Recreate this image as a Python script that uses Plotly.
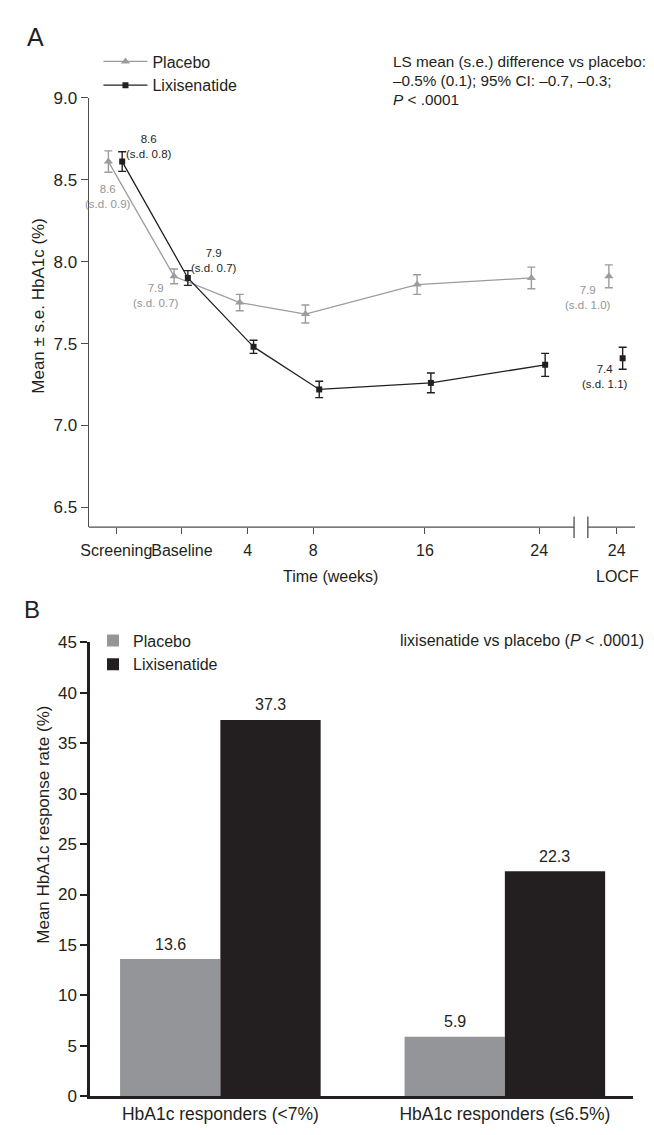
import plotly.graph_objects as go

# ---------------- Panel A data ----------------
timepoints = ["Screening", "Baseline", "4", "8", "16", "24", "24"]
x_positions = [0, 1, 2, 3, 4.7, 6.44, 7.62]          # axis positions of the time points
placebo_mean = [8.61, 7.91, 7.75, 7.68, 7.86, 7.90, 7.91]
placebo_se = [0.065, 0.045, 0.05, 0.055, 0.06, 0.066, 0.07]
lixi_mean = [8.61, 7.90, 7.48, 7.22, 7.26, 7.37, 7.41]
lixi_se = [0.06, 0.045, 0.04, 0.05, 0.06, 0.07, 0.067]
placebo_notes = {0: "8.6<br>(s.d. 0.9)", 1: "7.9<br>(s.d. 0.7)", 6: "7.9<br>(s.d. 1.0)"}
lixi_notes = {0: "8.6<br>(s.d. 0.8)", 1: "7.9<br>(s.d. 0.7)", 6: "7.4<br>(s.d. 1.1)"}

# ---------------- Panel B data ----------------
categories_b = ["HbA1c responders (<7%)", "HbA1c responders (≤6.5%)"]
placebo_rate = [13.6, 5.9]
lixi_rate = [37.3, 22.3]

# The page body keeps its default 8px margin, so the figure is sized to fill
# the 654x1135 window exactly together with that margin.
OFF = 8
W, H = 654 - 2 * OFF, 1135 - 2 * OFF
FONT = "Liberation Sans, Arial, Helvetica, sans-serif"
DARK = "#231f20"
GREY_LINE = "#9b9c9f"
GREY_BAR = "#939598"
BARGAP = 0.295

def px_x(v):
    return (v - OFF) / W

def px_y(v):
    return 1 - (v - OFF) / H

DODGE_P, DODGE_L = -0.12, 0.09
xp = [x + DODGE_P for x in x_positions]
xl = [x + DODGE_L for x in x_positions]

fig = go.Figure()

fig.add_trace(go.Scatter(
    x=xp[:6], y=placebo_mean[:6], mode="lines+markers", name="Placebo",
    line=dict(color=GREY_LINE, width=1.3),
    marker=dict(symbol="triangle-up", size=8, color=GREY_LINE),
    error_y=dict(type="data", array=placebo_se[:6], color=GREY_LINE, thickness=1.4, width=4),
    xaxis="x", yaxis="y", legend="legend"))
fig.add_trace(go.Scatter(
    x=xp[6:], y=placebo_mean[6:], mode="markers", showlegend=False,
    marker=dict(symbol="triangle-up", size=8, color=GREY_LINE),
    error_y=dict(type="data", array=placebo_se[6:], color=GREY_LINE, thickness=1.4, width=4),
    xaxis="x", yaxis="y"))
fig.add_trace(go.Scatter(
    x=xl[:6], y=lixi_mean[:6], mode="lines+markers", name="Lixisenatide",
    line=dict(color=DARK, width=1.3),
    marker=dict(symbol="square", size=6, color=DARK),
    error_y=dict(type="data", array=lixi_se[:6], color=DARK, thickness=1.4, width=4),
    xaxis="x", yaxis="y", legend="legend"))
fig.add_trace(go.Scatter(
    x=xl[6:], y=lixi_mean[6:], mode="markers", showlegend=False,
    marker=dict(symbol="square", size=6, color=DARK),
    error_y=dict(type="data", array=lixi_se[6:], color=DARK, thickness=1.4, width=4),
    xaxis="x", yaxis="y"))

fig.add_trace(go.Bar(
    x=categories_b, y=placebo_rate, name="Placebo", marker=dict(color=GREY_BAR, line=dict(width=0)),
    xaxis="x2", yaxis="y2", legend="legend2"))
fig.add_trace(go.Bar(
    x=categories_b, y=lixi_rate, name="Lixisenatide", marker=dict(color=DARK, line=dict(width=0)),
    xaxis="x2", yaxis="y2", legend="legend2"))

annotations = []
note_shift_p = {0: (0, -35), 1: (-18, -19), 6: (-21, -21)}
note_shift_l = {0: (27, 15), 1: (26, 17), 6: (-18, -18)}
for i, txt in placebo_notes.items():
    dx, dy = note_shift_p[i]
    annotations.append(dict(x=xp[i], y=placebo_mean[i], xref="x", yref="y", text=txt,
                            showarrow=False, xshift=dx, yshift=dy, align="center",
                            font=dict(size=11.5, color=GREY_BAR, family=FONT)))
for i, txt in lixi_notes.items():
    dx, dy = note_shift_l[i]
    annotations.append(dict(x=xl[i], y=lixi_mean[i], xref="x", yref="y", text=txt,
                            showarrow=False, xshift=dx, yshift=dy, align="center",
                            font=dict(size=11.5, color=DARK, family=FONT)))

# value labels above the grouped bars
half = (1 - BARGAP) / 4
for series, off in ((placebo_rate, -half), (lixi_rate, half)):
    for i, v in enumerate(series):
        annotations.append(dict(x=i + off, y=v, xref="x2", yref="y2", text=f"{v:.1f}",
                                showarrow=False, yanchor="middle", yshift=15,
                                font=dict(size=16, color=DARK, family=FONT)))

def paper_text(text, x, y, size=16, xanchor="center", yanchor="middle", align="center", angle=0):
    annotations.append(dict(x=px_x(x), y=px_y(y), xref="paper", yref="paper", text=text,
                            showarrow=False, xanchor=xanchor, yanchor=yanchor, align=align,
                            textangle=angle, borderpad=0,
                            font=dict(size=size, color=DARK, family=FONT)))

paper_text("A", 28, 28, size=25)
paper_text("B", 24, 611, size=24)
paper_text("LS mean (s.e.) difference vs placebo:", 389, 53, size=15.3, xanchor="left")
paper_text("–0.5% (0.1); 95% CI: –0.7, –0.3;", 389, 72.5, size=15.3, xanchor="left")
paper_text("<i>P</i> < .0001", 389, 92, size=15.3, xanchor="left")
paper_text("Mean ± s.e. HbA1c (%)", 30, 302, size=17, angle=-90)
paper_text("Time (weeks)", 326, 577)
paper_text("LOCF", 617, 577)
paper_text("lixisenatide vs placebo (<i>P</i> < .0001)", 645, 642, xanchor="right")
paper_text("Mean HbA1c response rate (%)", 35, 830, size=17, angle=-90)

AX = "#4d4d4f"
BREAK_L, BREAK_R = 6.97, 7.18
shapes = [
    dict(type="line", xref="x", yref="y domain", x0=-0.42, x1=BREAK_L, y0=0, y1=0,
         line=dict(color=AX, width=1.3)),
    dict(type="line", xref="x", yref="y domain", x0=BREAK_R, x1=7.90, y0=0, y1=0,
         line=dict(color=AX, width=1.3)),
    dict(type="line", xref="x", yref="y domain", x0=BREAK_L, x1=BREAK_L, y0=-0.025, y1=0.025,
         line=dict(color=AX, width=1.3)),
    dict(type="line", xref="x", yref="y domain", x0=BREAK_R, x1=BREAK_R, y0=-0.025, y1=0.025,
         line=dict(color=AX, width=1.3)),
]

fig.update_layout(
    width=W, height=H, margin=dict(l=0, r=0, t=0, b=0),
    paper_bgcolor="white", plot_bgcolor="white",
    font=dict(family=FONT, size=16, color=DARK),
    showlegend=True,
    barmode="group", bargap=BARGAP, bargroupgap=0,
    xaxis=dict(domain=[px_x(81.6), px_x(635)], range=[-0.42, 7.90],
               tickvals=x_positions, ticktext=timepoints, showline=False, showgrid=False,
               zeroline=False, ticks="outside", ticklen=6, tickwidth=1.2, tickcolor=AX,
               tickangle=0, ticklabelstandoff=3, tickfont=dict(size=16)),
    yaxis=dict(domain=[px_y(527), px_y(90)], range=[6.38, 9.0], tickvals=[6.5, 7.0, 7.5, 8.0, 8.5, 9.0],
               tickformat=".1f", showline=True, linecolor=AX, linewidth=1.3, showgrid=False,
               zeroline=False, ticks="outside", ticklen=7, tickwidth=1.2, tickcolor=AX,
               tickfont=dict(size=17)),
    xaxis2=dict(domain=[px_x(83), px_x(633)], range=[-0.458, 1.451], anchor="y2",
                showline=True, linecolor=DARK, linewidth=2.5, showgrid=False, zeroline=False,
                ticks="", tickangle=0, tickfont=dict(size=17.5)),
    yaxis2=dict(domain=[px_y(1106), px_y(644)], range=[0, 45], dtick=5, anchor="x2",
                showline=True, linecolor=DARK, linewidth=2.5, showgrid=False, zeroline=False,
                ticks="outside", ticklen=7, tickwidth=2, tickcolor=DARK, tickfont=dict(size=17)),
    legend=dict(x=px_x(91.5), y=px_y(36), xanchor="left", yanchor="top", bgcolor="rgba(0,0,0,0)",
                font=dict(size=16, color=DARK), itemwidth=44, tracegroupgap=0),
    legend2=dict(x=px_x(86), y=px_y(625), xanchor="left", yanchor="top", bgcolor="rgba(0,0,0,0)",
                 font=dict(size=16, color=DARK), tracegroupgap=0),
    annotations=annotations, shapes=shapes,
)

fig.write_html("out.html", config={"displayModeBar": False})
